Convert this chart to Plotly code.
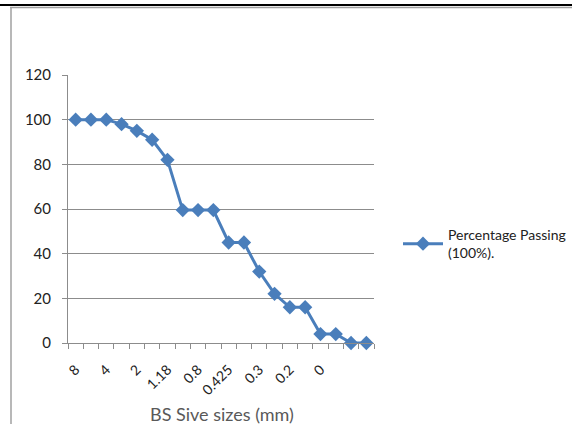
import plotly.graph_objects as go

# Data
positions = list(range(20))
passing = [100, 100, 100, 98, 95, 91, 82, 59.5, 59.5, 59.5, 45, 45, 32, 22, 16, 16, 4, 4, 0, 0]
label_positions = [0, 2, 4, 6, 8, 10, 12, 14, 16]
label_text = ["8", "4", "2", "1.18", "0.8", "0.425", "0.3", "0.2", "0"]
y_ticks = [0, 20, 40, 60, 80, 100, 120]

W, H = 572, 424
L, R, T, B = 68, 374, 75, 343
pw, ph = R - L, B - T

def px(x):
    return (x - L) / pw

def py(y):
    return 1 - (y - T) / ph

blue = "#4A7EBB"
grid = "#8C8C8C"

fig = go.Figure()
fig.add_trace(go.Scatter(
    x=positions, y=passing, mode="lines+markers",
    name="Percentage Passing<br>(100%).",
    line=dict(color=blue, width=3),
    marker=dict(symbol="diamond", size=11, color=blue),
    cliponaxis=False,
))

fig.update_layout(
    width=W, height=H,
    margin=dict(l=L, r=W - R, t=T, b=H - B, pad=0, autoexpand=False),
    paper_bgcolor="white", plot_bgcolor="white",
    font=dict(family="Lato, 'Open Sans', sans-serif", size=12, color="#333333"),
    showlegend=True,
    legend=dict(x=px(398), y=py(219), xanchor="left", yanchor="top",
                font=dict(size=14, color="#222222"), bgcolor="rgba(0,0,0,0)",
                itemwidth=40),
    xaxis=dict(
        range=[-0.5, 19.5], tickmode="array", tickvals=label_positions,
        ticktext=label_text, tickangle=-45, ticks="", showgrid=False,
        showline=True, linecolor=grid, linewidth=1, zeroline=False,
        tickfont=dict(size=14, color="#222222"), ticklabelstandoff=12,
        automargin=False,
        minor=dict(tickmode="linear", tick0=-0.5, dtick=1, ticks="outside",
                   ticklen=5, tickcolor=grid, showgrid=False),
    ),
    yaxis=dict(
        range=[0, 120], tickmode="array", tickvals=y_ticks,
        showgrid=True, gridcolor=grid, gridwidth=1,
        showline=True, linecolor=grid, linewidth=1, zeroline=False,
        ticks="outside", ticklen=5, tickcolor=grid, automargin=False,
        tickfont=dict(size=15, color="#222222"), ticklabelstandoff=8,
    ),
)

fig.add_annotation(
    text="BS Sive sizes (mm)", xref="paper", yref="paper",
    x=px(222), y=py(414), xanchor="center", yanchor="middle",
    showarrow=False, font=dict(size=18, color="#595959"),
)

# document frame lines
fig.add_shape(type="line", xref="paper", yref="paper",
              x0=px(0), x1=px(572), y0=py(5), y1=py(5),
              line=dict(color="black", width=2))
fig.add_shape(type="line", xref="paper", yref="paper",
              x0=px(10), x1=px(572), y0=py(7.5), y1=py(7.5),
              line=dict(color="#A0A0A0", width=1.5))
fig.add_shape(type="line", xref="paper", yref="paper",
              x0=px(11), x1=px(11), y0=py(7), y1=py(424),
              line=dict(color="#A0A0A0", width=1.5))

fig.write_html("out.html")
